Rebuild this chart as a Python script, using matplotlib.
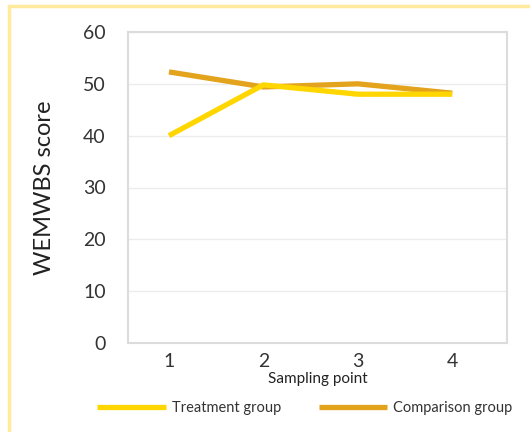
import matplotlib.pyplot as plt
from matplotlib.patches import Rectangle

# Data
points = [1, 2, 3, 4]
treatment = [40.0, 49.8, 48.0, 48.0]
comparison = [52.3, 49.4, 50.0, 48.2]
yticks = [0, 10, 20, 30, 40, 50, 60]

plt.rcParams['font.family'] = ['Lato', 'DejaVu Sans']

fig = plt.figure(figsize=(5.30, 4.32), dpi=100)
fig.patch.set_facecolor('white')

# light yellow frame along top and left edge
fig.patches.append(Rectangle((9 / 530, -0.1), 1.2, 1.1 - 6.5 / 432,
                             transform=fig.transFigure, fill=False,
                             edgecolor='#FFEA9E', linewidth=2.5))

ax = fig.add_axes([128 / 530, 1 - 343 / 432, (507 - 128) / 530, (343 - 32) / 432])

ax.plot(points, treatment, color='#FFD600', linewidth=3.8, solid_capstyle='butt',
        label='Treatment group', zorder=3)
ax.plot(points, comparison, color='#E3A31C', linewidth=3.8, solid_capstyle='butt',
        label='Comparison group', zorder=2)

ax.set_xlim(0.566, 4.58)
ax.set_ylim(0, 60)
ax.set_xticks(points)
ax.set_yticks(yticks)
ax.tick_params(length=0, labelsize=14, colors='#333333')
ax.tick_params(axis='y', pad=16)
ax.tick_params(axis='x', pad=7)
ax.grid(axis='y', color='#ECECEC', linewidth=1)
ax.set_axisbelow(True)
for s in ax.spines.values():
    s.set_color('#DCDCDC')
    s.set_linewidth(1.5)

ax.set_ylabel('WEMWBS score', fontsize=17, color='#222222', labelpad=20)
ax.set_xlabel('Sampling point', fontsize=11, color='#222222', labelpad=2)

fig.legend(loc='center', bbox_to_anchor=(0.575, 0.055), ncol=2, frameon=False,
           handlelength=4.7, handletextpad=0.4, columnspacing=2.6,
           prop={'size': 10.5})
for t in fig.legends[0].get_texts():
    t.set_color('#333333')

fig.savefig('out.png', dpi=100)
